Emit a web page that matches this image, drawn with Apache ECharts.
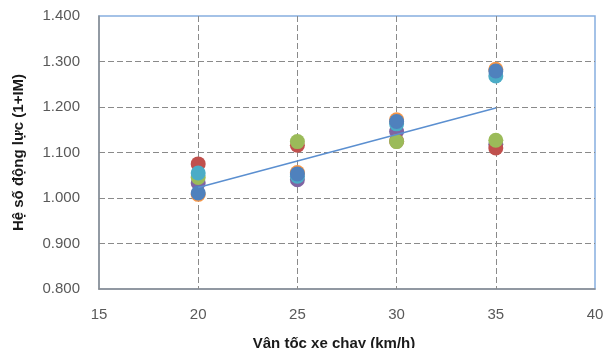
<!DOCTYPE html>
<html><head><meta charset="utf-8">
<script src="https://cdn.jsdelivr.net/npm/echarts@6/dist/echarts.min.js"></script>
<style>html,body{margin:0;padding:0;background:#fff}#c{width:606px;height:348px}</style>
</head><body><div id="c"></div>
<script>
// Speeds (km/h)
const speeds = [20, 25, 30, 35];
// Dynamic factor (1+IM) per series, one value per speed
const seriesPurple = [1.033, 1.040, 1.146, 1.118];
const seriesRed    = [1.075, 1.116, 1.125, 1.110];
const seriesGreen  = [1.045, 1.124, 1.124, 1.127];
const seriesTeal   = [1.055, 1.048, 1.163, 1.268];
const seriesOrange = [1.008, 1.056, 1.172, 1.283];
const seriesBlue   = [1.011, 1.053, 1.168, 1.279];
// Linear trendline end points
const trendX = [20, 35];
const trendY = [1.023, 1.198];
// Axis tick ranges
const xTicks = {min: 15, max: 40, interval: 5};
const yTicks = {min: 0.8, max: 1.4, interval: 0.1};

const pts = arr => arr.map((v, i) => [speeds[i], v]);
const mk = (vals, color) => ({
  type: 'scatter', data: pts(vals), symbol: 'circle', symbolSize: 15,
  itemStyle: {color: color, opacity: 1}, z: 3
});
const font = "'Liberation Sans', Arial, sans-serif";
const chart = echarts.init(document.getElementById('c'), null, {renderer: 'canvas'});
chart.setOption({
  animation: false,
  grid: {left: 99, right: 11, top: 16, bottom: 59, containLabel: false, outerBoundsMode: 'none',
         show: true, borderColor: '#86aee0', borderWidth: 1.5, backgroundColor: 'transparent'},
  xAxis: {
    type: 'value', min: xTicks.min, max: xTicks.max, interval: xTicks.interval,
    axisLine: {show: true, lineStyle: {color: '#8c8c8c', width: 1.5}},
    axisTick: {show: false},
    axisLabel: {color: '#595959', fontSize: 15, fontFamily: font, margin: 18},
    splitLine: {show: true, showMinLine: false, showMaxLine: false, lineStyle: {color: '#8a8a8a', type: [6, 3], width: 1}},
    name: 'Vận tốc xe chạy (km/h)', nameLocation: 'middle', nameGap: 47,
    nameTextStyle: {fontWeight: 'bold', fontSize: 15, color: '#1a1a1a', fontFamily: font, padding: [0, 26, 0, 0]}
  },
  yAxis: {
    type: 'value', min: yTicks.min, max: yTicks.max, interval: yTicks.interval,
    axisLine: {show: true, lineStyle: {color: '#8c8c8c', width: 1.5}},
    axisTick: {show: false},
    axisLabel: {color: '#595959', fontSize: 15, fontFamily: font, margin: 19, formatter: v => v.toFixed(3)},
    splitLine: {show: true, showMinLine: false, showMaxLine: false, lineStyle: {color: '#8a8a8a', type: [6, 3], width: 1}},
    name: 'Hệ số động lực (1+IM)', nameLocation: 'middle', nameGap: 73,
    nameTextStyle: {fontWeight: 'bold', fontSize: 15, color: '#1a1a1a', fontFamily: font}
  },
  series: [
    mk(seriesPurple, '#8064A2'),
    mk(seriesRed, '#C0504D'),
    mk(seriesGreen, '#9BBB59'),
    mk(seriesTeal, '#4BACC6'),
    mk(seriesOrange, '#F79646'),
    mk(seriesBlue, '#4F81BD'),
    {type: 'line', data: trendX.map((x, i) => [x, trendY[i]]), symbol: 'none',
     lineStyle: {color: '#5b8fd0', width: 1.5}, z: 4}
  ]
});
</script></body></html>
